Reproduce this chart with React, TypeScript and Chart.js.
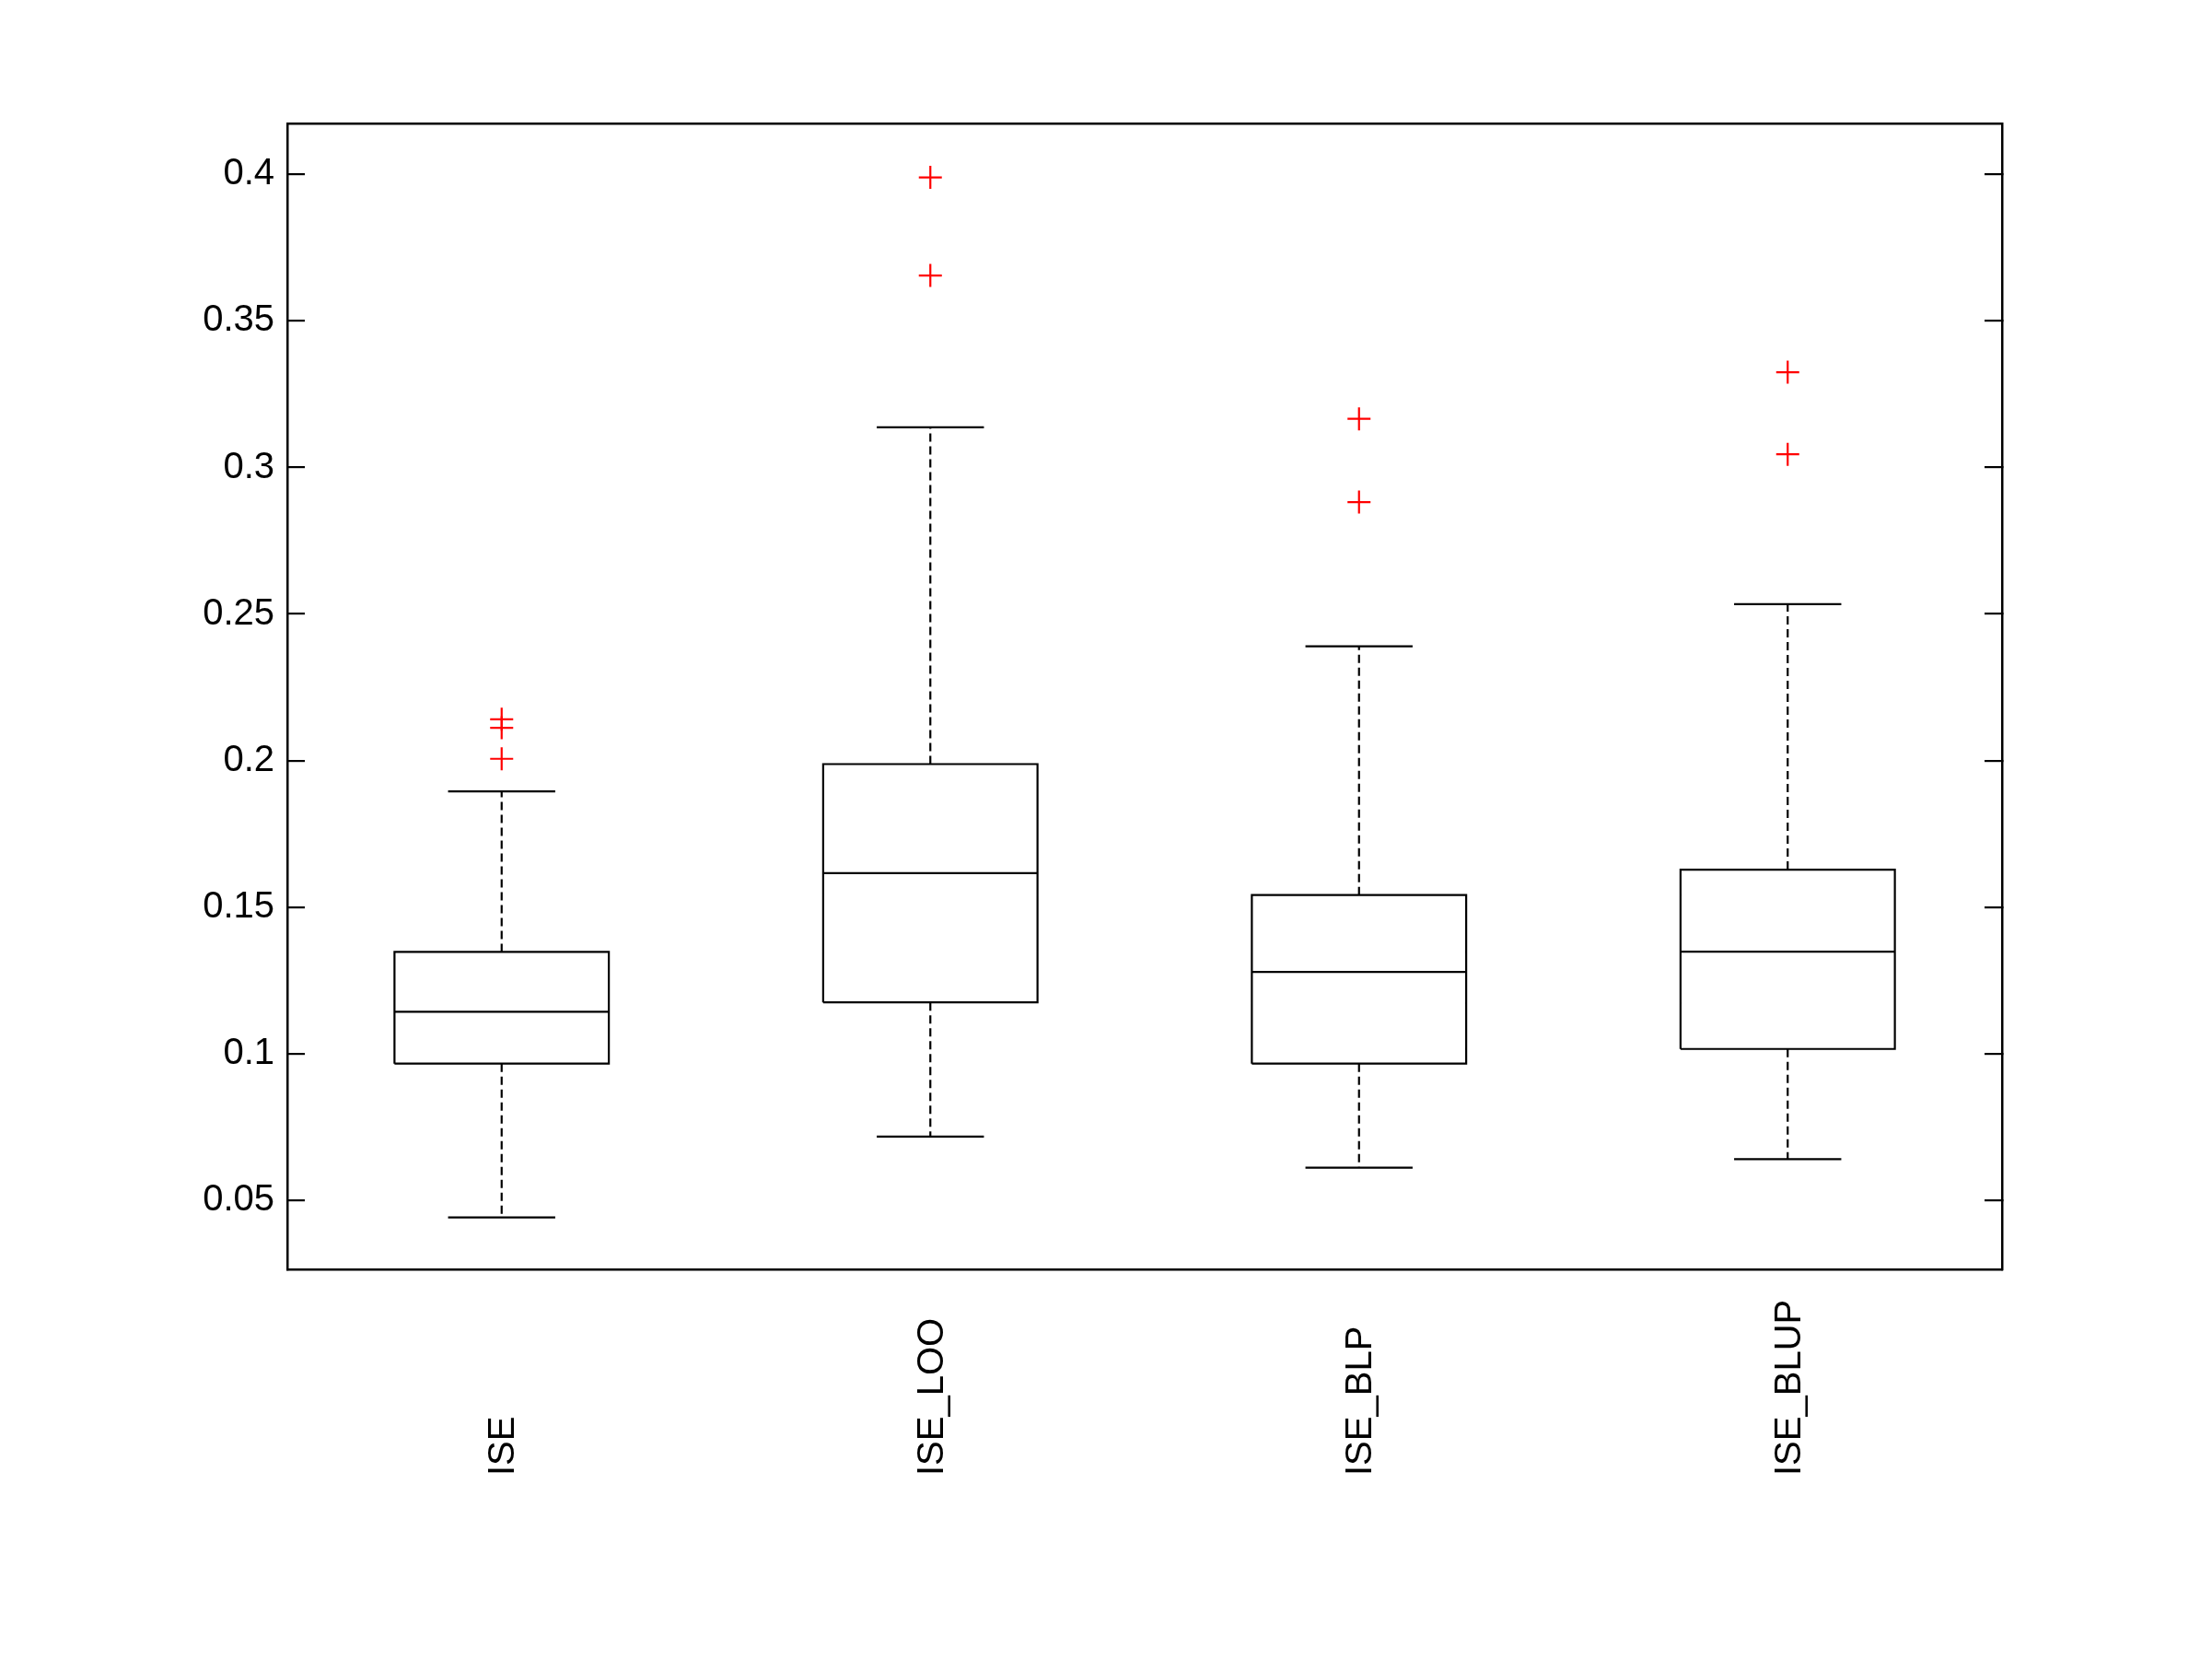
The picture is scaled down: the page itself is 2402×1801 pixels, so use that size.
import React, { useEffect, useRef } from "react";
import { Chart, registerables } from "chart.js";

Chart.register(...registerables);

const categories = ["ISE", "ISE_LOO", "ISE_BLP", "ISE_BLUP"];
const lowerWhisker = [0.0441, 0.0717, 0.0611, 0.064];
const q1 = [0.0966, 0.1175, 0.0966, 0.1016];
const median = [0.1143, 0.1616, 0.1279, 0.1348];
const q3 = [0.1347, 0.1988, 0.1541, 0.1628];
const upperWhisker = [0.1895, 0.3137, 0.239, 0.2534];
const outliers = [
  [0.2141, 0.2112, 0.2006],
  [0.399, 0.3655],
  [0.3166, 0.2882],
  [0.3325, 0.3045],
];
const yTicks = [0.05, 0.1, 0.15, 0.2, 0.25, 0.3, 0.35, 0.4];
const yMin = 0.0264;
const yMax = 0.4174;

const BOX_HALF = 0.25;
const CAP_HALF = 0.125;
const FONT = "'Liberation Sans', Arial, sans-serif";

type P = { x: number; y: number | null };

function buildData() {
  const box: P[] = [];
  const med: P[] = [];
  const whisk: P[] = [];
  const caps: P[] = [];
  const outs: P[] = [];
  categories.forEach((_, i) => {
    const c = i + 1;
    box.push(
      { x: c - BOX_HALF, y: q1[i] },
      { x: c + BOX_HALF, y: q1[i] },
      { x: c + BOX_HALF, y: q3[i] },
      { x: c - BOX_HALF, y: q3[i] },
      { x: c - BOX_HALF, y: q1[i] },
      { x: c, y: null }
    );
    med.push({ x: c - BOX_HALF, y: median[i] }, { x: c + BOX_HALF, y: median[i] }, { x: c, y: null });
    whisk.push(
      { x: c, y: q3[i] },
      { x: c, y: upperWhisker[i] },
      { x: c, y: null },
      { x: c, y: q1[i] },
      { x: c, y: lowerWhisker[i] },
      { x: c, y: null }
    );
    caps.push(
      { x: c - CAP_HALF, y: upperWhisker[i] },
      { x: c + CAP_HALF, y: upperWhisker[i] },
      { x: c, y: null },
      { x: c - CAP_HALF, y: lowerWhisker[i] },
      { x: c + CAP_HALF, y: lowerWhisker[i] },
      { x: c, y: null }
    );
    outliers[i].forEach((v) => outs.push({ x: c, y: v }));
  });
  return { box, med, whisk, caps, outs };
}

const categoryLabelsPlugin = {
  id: "categoryLabels",
  afterDraw(chart: any) {
    const { ctx, chartArea } = chart;
    const xs = chart.scales.x;
    ctx.save();
    ctx.fillStyle = "#000";
    ctx.font = `40px ${FONT}`;
    ctx.textAlign = "left";
    ctx.textBaseline = "middle";
    categories.forEach((label, i) => {
      const px = xs.getPixelForValue(i + 1);
      ctx.save();
      ctx.translate(px + 2.5, chartArea.bottom + 224);
      ctx.rotate(-Math.PI / 2);
      ctx.fillText(label, 0, 0);
      ctx.restore();
    });
    ctx.restore();
  },
};

export default function App() {
  const ref = useRef<HTMLCanvasElement | null>(null);
  useEffect(() => {
    if (!ref.current) return;
    const d = buildData();
    const lineBase = {
      showLine: true,
      pointRadius: 0,
      pointHoverRadius: 0,
      borderColor: "#000",
      borderWidth: 2.2,
      borderCapStyle: "butt",
      borderJoinStyle: "miter",
      spanGaps: false,
      fill: false,
      tension: 0,
    };
    const setTicks = (scale: any) => {
      scale.ticks = yTicks.map((v) => ({ value: v }));
    };
    const chart = new Chart(ref.current, {
      type: "scatter",
      data: {
        datasets: [
          { ...lineBase, label: "whiskers", data: d.whisk, borderDash: [9, 5] },
          { ...lineBase, label: "caps", data: d.caps },
          { ...lineBase, label: "box", data: d.box },
          { ...lineBase, label: "median", data: d.med },
          {
            label: "outliers",
            data: d.outs,
            showLine: false,
            pointStyle: "cross",
            pointRadius: 12.5,
            pointHoverRadius: 12.5,
            pointBorderWidth: 2.2,
            pointBorderColor: "#ff0000",
            borderColor: "#ff0000",
            backgroundColor: "#ff0000",
          },
        ] as any,
      },
      options: {
        responsive: false,
        animation: false,
        devicePixelRatio: 1,
        layout: { padding: 0 },
        plugins: { legend: { display: false }, tooltip: { enabled: false } },
        scales: {
          x: {
            type: "linear",
            position: "bottom",
            min: 0.5,
            max: 4.5,
            grid: { display: false },
            ticks: { display: false },
            border: { display: true, color: "#000", width: 2.5 },
            afterFit: (s: any) => {
              s.height = 1801 - 1378;
            },
          },
          x2: {
            type: "linear",
            position: "top",
            min: 0.5,
            max: 4.5,
            grid: { display: false },
            ticks: { display: false },
            border: { display: true, color: "#000", width: 2.5 },
            afterFit: (s: any) => {
              s.height = 134;
            },
          },
          y: {
            type: "linear",
            position: "left",
            min: yMin,
            max: yMax,
            afterBuildTicks: setTicks,
            ticks: {
              color: "#000",
              font: { family: FONT, size: 40 },
              padding: 33,
              callback: (v: any) => String(Number(Number(v).toFixed(2))),
            },
            grid: {
              display: true,
              drawOnChartArea: false,
              drawTicks: true,
              tickLength: -19,
              color: "#000",
              lineWidth: 2.2,
            },
            border: { display: true, color: "#000", width: 2.5 },
            afterFit: (s: any) => {
              s.width = 312;
            },
          },
          y2: {
            type: "linear",
            position: "right",
            min: yMin,
            max: yMax,
            afterBuildTicks: setTicks,
            ticks: { display: false },
            grid: {
              display: true,
              drawOnChartArea: false,
              drawTicks: true,
              tickLength: -19,
              color: "#000",
              lineWidth: 2.2,
            },
            border: { display: true, color: "#000", width: 2.5 },
            afterFit: (s: any) => {
              s.width = 2402 - 2174;
            },
          },
        },
      } as any,
      plugins: [categoryLabelsPlugin],
    });
    return () => chart.destroy();
  }, []);
  return (
    <div style={{ position: "fixed", left: 0, top: 0, width: 2402, height: 1801, background: "#fff" }}>
      <canvas ref={ref} width={2402} height={1801} style={{ width: 2402, height: 1801, display: "block" }} />
    </div>
  );
}
